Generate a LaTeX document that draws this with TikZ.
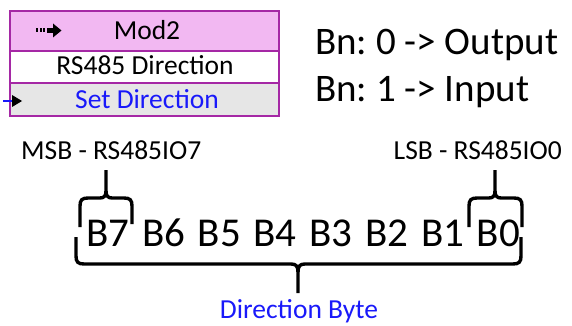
\documentclass[tikz,border=0pt]{standalone}
\usepackage{fontspec}
\setmainfont{Carlito}
\frenchspacing
\definecolor{pinkrow}{RGB}{242,184,242}
\definecolor{grayrow}{RGB}{230,230,230}
\definecolor{purp}{RGB}{165,40,165}
\definecolor{bluetxt}{RGB}{25,25,250}
\begin{document}
\begin{tikzpicture}[x=1pt,y=-1pt,
  lbl/.style={inner sep=0pt, font=\fontsize{27.5}{27.5}\selectfont},
  big/.style={inner sep=0pt, font=\fontsize{39}{39}\selectfont},
  bit/.style={inner sep=0pt, anchor=base west, font=\fontsize{41}{41}\selectfont},
  brace/.style={line width=3.4pt, line join=round, line cap=butt},
  rowline/.style={purp, line width=1.6pt}]
\useasboundingbox (0,0) rectangle (572,326);
\fill[white] (0,0) rectangle (572,326);
% function node box
\fill[pinkrow] (10,11) rectangle (279,51);
\fill[white] (10,51) rectangle (279,83);
\fill[grayrow] (10,83) rectangle (279,116);
\draw[rowline] (10,51) -- (279,51);
\draw[rowline] (10,83) -- (279,83);
\draw[purp, line width=2.4pt] (10,11) rectangle (279,116);
% icon in title row
\fill[black] (36,28.5) rectangle (38.2,32.5);
\fill[black] (39.6,28.5) rectangle (41.8,32.5);
\fill[black] (43.2,28.5) rectangle (45.4,32.5);
\fill[black] (46.5,28.3) rectangle (54,32.7);
\fill[black] (53,23.5) -- (61.5,30.5) -- (53,37.5) -- cycle;
% input terminal arrow
\draw[bluetxt, line width=1.6pt] (3,101) -- (12,101);
\fill[black] (12,95) -- (22,101) -- (12,107) -- cycle;
% texts in box
\node[lbl, anchor=base] (mod) at (147,40) {Mod2};
\node[lbl, anchor=base] (rsd) at (145,75) {RS485 Direction};
\node[lbl, anchor=base, text=bluetxt] (setd) at (147,108) {Set Direction};
% legend
\node[big, anchor=base west] (out) at (315,55) {Bn: 0 -> Output};
\node[big, anchor=base west] (inp) at (315,102) {Bn: 1 -> Input};
% labels
\node[lbl, anchor=base west] (msb) at (21,159) {MSB - RS485IO7};
\node[lbl, anchor=base east] (lsb) at (562,159) {LSB - RS485IO0};
\node[bit] (b7) at (86,246) {B7};
\node[bit] (b6) at (141.8,246) {B6};
\node[bit] (b5) at (197.6,246) {B5};
\node[bit] (b4) at (253.4,246) {B4};
\node[bit] (b3) at (309.2,246) {B3};
\node[bit] (b2) at (365,246) {B2};
\node[bit] (b1) at (420.8,246) {B1};
\node[bit] (b0) at (476.6,246) {B0};
\node[lbl, anchor=base, text=bluetxt] (dir) at (299,318) {Direction Byte};
% top-left brace
\draw[brace] (80,227) -- (80,206) .. controls (80,200) and (82,198) .. (88,198)
  -- (100,198) .. controls (104,198) and (106,196) .. (106,191) -- (106,170);
\draw[brace] (132,224) -- (132,206) .. controls (132,200) and (130,198) .. (124,198)
  -- (112,198) .. controls (108,198) and (106,196) .. (106,191);
% top-right brace
\draw[brace] (469,227) -- (469,206) .. controls (469,200) and (471,198) .. (477,198)
  -- (489,198) .. controls (493,198) and (495,196) .. (495,191) -- (495,170);
\draw[brace] (522,227) -- (522,206) .. controls (522,200) and (520,198) .. (514,198)
  -- (501,198) .. controls (497,198) and (495,196) .. (495,191);
% bottom brace
\draw[brace] (76,237) -- (76,256) .. controls (76,262) and (78,264) .. (84,264)
  -- (291,264) .. controls (296,264) and (298,266) .. (298,272) -- (298,293);
\draw[brace] (521,237) -- (521,256) .. controls (521,262) and (519,264) .. (513,264)
  -- (305,264) .. controls (300,264) and (298,266) .. (298,272);
\end{tikzpicture}
\end{document}
